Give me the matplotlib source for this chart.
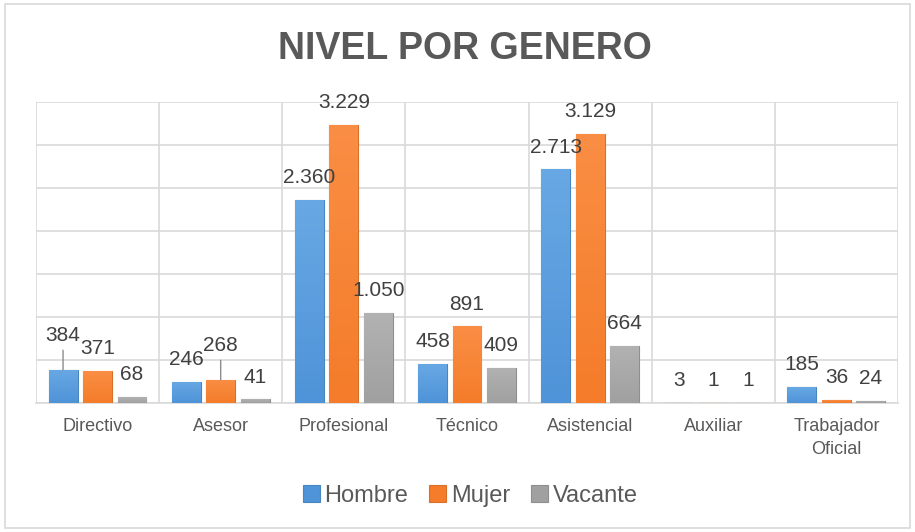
import matplotlib.pyplot as plt
from matplotlib.patches import Rectangle
from matplotlib.colors import LinearSegmentedColormap
import numpy as np

categories = ["Directivo", "Asesor", "Profesional", "Técnico", "Asistencial",
              "Auxiliar", "Trabajador\nOficial"]
hombre = [384, 246, 2360, 458, 2713, 3, 185]
mujer = [371, 268, 3229, 891, 3129, 1, 36]
vacante = [68, 41, 1050, 409, 664, 1, 24]

# name, values, bottom colour, top colour, edge colour
series = [("Hombre", hombre, "#4F93D8", "#68A8E4", "#4A86BE"),
          ("Mujer", mujer, "#F47C2A", "#FA8E44", "#D8702A"),
          ("Vacante", vacante, "#A0A0A0", "#B2B2B2", "#8E8E8E")]

# labels that Excel pushed up with a leader line
lifted = {("Hombre", 0), ("Mujer", 1)}

plt.rcParams['font.family'] = ['Liberation Sans', 'DejaVu Sans']

fig = plt.figure(figsize=(9.15, 5.32), dpi=100)
fig.patches.append(Rectangle((0.005, 0.008), 0.99, 0.985, transform=fig.transFigure,
                             fill=False, edgecolor="#D9D9D9", linewidth=1.2))
ax = fig.add_axes([0.0393, 0.2425, 0.9421, 0.5663])

x = np.arange(len(categories))
step = 0.28
width = 0.235
grad = np.linspace(0, 1, 256).reshape(-1, 1)

for i, (name, vals, c0, c1, edge) in enumerate(series):
    pos = x + (i - 1) * step
    bars = ax.bar(pos, vals, width, color=c0, edgecolor=edge, linewidth=0.8,
                  label=name, zorder=3)
    cmap = LinearSegmentedColormap.from_list(name, [c0, c1])
    for b in bars:
        x0, w, h = b.get_x(), b.get_width(), b.get_height()
        im = ax.imshow(grad, cmap=cmap, origin="lower", aspect="auto",
                       extent=[x0, x0 + w, 0, h], zorder=3.1)
        im.set_clip_path(b)
    for j, (p, v) in enumerate(zip(pos, vals)):
        txt = f"{v:,}".replace(",", ".")
        if (name, j) in lifted:
            ax.annotate(txt, (p, v), xytext=(0, 25), textcoords="offset points",
                        ha="center", va="center", fontsize=15, color="#404040",
                        arrowprops=dict(arrowstyle="-", color="#8C8C8C", lw=1,
                                        shrinkA=2, shrinkB=0), zorder=4)
        else:
            ax.annotate(txt, (p, v), xytext=(0, 16), textcoords="offset points",
                        ha="center", va="center", fontsize=15, color="#404040",
                        zorder=4)

ax.set_xlim(-0.5, len(categories) - 0.5)
ax.set_ylim(0, 3500)
ax.set_yticks(np.arange(0, 3501, 500))
ax.set_yticklabels([])
ax.tick_params(axis="y", length=0)
ax.set_xticks(x)
ax.set_xticklabels(categories, fontsize=13, color="#595959", linespacing=1.45)
ax.tick_params(axis="x", length=0, pad=11)
ax.set_xticks(np.arange(-0.5, len(categories)), minor=True)
ax.tick_params(axis="x", which="minor", length=0)
ax.grid(axis="y", color="#D9D9D9", linewidth=1.2, zorder=0)
ax.grid(axis="x", which="minor", color="#D9D9D9", linewidth=1.2, zorder=0)
for s in ["top", "left", "right"]:
    ax.spines[s].set_visible(False)
ax.spines["bottom"].set_color("#D9D9D9")
ax.spines["bottom"].set_linewidth(1.2)

fig.text(0.508, 0.907, "NIVEL POR GENERO", ha="center", va="center",
         fontsize=27, fontweight="bold", color="#595959")

fig.legend(loc="center", bbox_to_anchor=(0.514, 0.068), ncol=3, frameon=False,
           fontsize=17, labelcolor="#595959", handlelength=0.7, handleheight=0.7,
           handletextpad=0.2, columnspacing=0.9)

fig.savefig("out.png", dpi=100)
